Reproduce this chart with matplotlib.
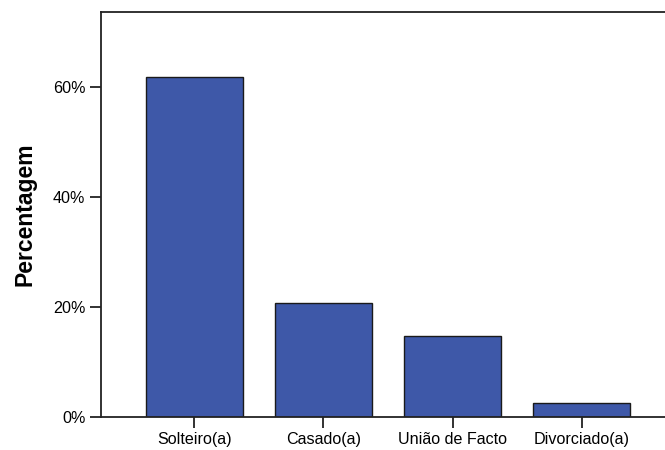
import matplotlib
matplotlib.use("Agg")
import matplotlib.pyplot as plt
from matplotlib.ticker import FuncFormatter

# ========== 数据 ==========
categories = ["Solteiro(a)", "Casado(a)", "União de Facto", "Divorciado(a)"]
percentages = [61.8, 20.7, 14.7, 2.5]
y_ticks = [0, 20, 40, 60]

plt.rcParams["font.family"] = ["Liberation Sans", "DejaVu Sans"]

fig = plt.figure(figsize=(6.65, 4.5), dpi=100)
ax = fig.add_axes([0.1514, 0.074, 0.864, 0.8987])

x = range(len(categories))
ax.bar(x, percentages, width=0.75, color="#3E58A8", edgecolor="#1a1a1a", linewidth=1.0)

ax.set_xlim(-0.725, len(categories) - 1 + 0.725)
ax.set_ylim(0, 73.5)
ax.set_yticks(y_ticks)
ax.yaxis.set_major_formatter(FuncFormatter(lambda v, _: f"{v:.0f}%"))
ax.set_xticks(list(x))
ax.set_xticklabels(categories)

ax.tick_params(axis="both", direction="out", length=8, width=1.3, color="#222222",
               labelsize=11.6, pad=3)
ax.set_ylabel("Percentagem", fontsize=16.5, fontweight="bold", labelpad=12)

for s in ax.spines.values():
    s.set_linewidth(1.3)
    s.set_color("#222222")

fig.savefig("out.png", dpi=100)
